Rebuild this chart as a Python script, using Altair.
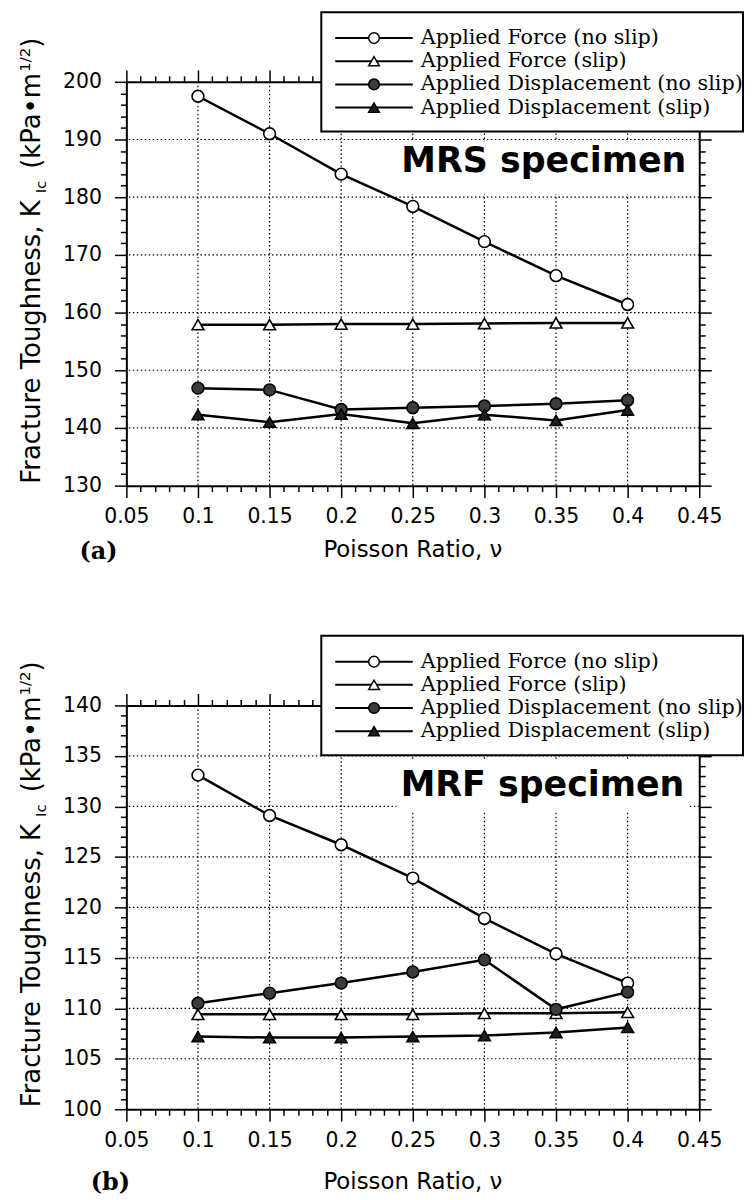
import altair as alt
import pandas as pd

# ---------------- data ----------------
poisson = [0.1, 0.15, 0.2, 0.25, 0.3, 0.35, 0.4]
series_names = [
    "Applied Force (no slip)",
    "Applied Force (slip)",
    "Applied Displacement (no slip)",
    "Applied Displacement (slip)",
]

mrs_force_noslip = [197.5, 191.0, 184.0, 178.4, 172.3, 166.4, 161.4]
mrs_force_slip = [157.9, 157.9, 158.0, 158.0, 158.1, 158.2, 158.2]
mrs_disp_noslip = [146.9, 146.6, 143.2, 143.5, 143.8, 144.2, 144.8]
mrs_disp_slip = [142.3, 141.0, 142.4, 140.8, 142.3, 141.3, 143.1]

mrf_force_noslip = [133.1, 129.1, 126.2, 122.9, 118.9, 115.4, 112.5]
mrf_force_slip = [109.4, 109.4, 109.4, 109.4, 109.5, 109.5, 109.6]
mrf_disp_noslip = [110.5, 111.5, 112.5, 113.6, 114.8, 109.9, 111.6]
mrf_disp_slip = [107.2, 107.1, 107.1, 107.2, 107.3, 107.6, 108.1]

x_grid = [0.1, 0.15, 0.2, 0.25, 0.3, 0.35, 0.4]
mrs_y_grid = [140, 150, 160, 170, 180, 190]
mrf_y_grid = [105, 110, 115, 120, 125, 130, 135]

# ---------------- layout constants ----------------
W, H = 576, 406
XDOM = [0.05, 0.45]
SANS = "DejaVu Sans"
SERIF = "DejaVu Serif"

shape_scale = alt.Scale(domain=series_names,
                        range=["circle", "triangle-up", "circle", "triangle-up"])
fill_scale = alt.Scale(domain=series_names,
                       range=["white", "white", "#3c3c3c", "#1e1e1e"])


def cond(test, a, b):
    return {"condition": {"test": test, "value": a}, "value": b}


def X(field, axis=None):
    return alt.X(f"{field}:Q", scale=alt.Scale(domain=XDOM, nice=False, zero=False), axis=axis)


def Y(field, ydom, axis=None):
    return alt.Y(f"{field}:Q", scale=alt.Scale(domain=ydom, nice=False, zero=False), axis=axis)


def panel(values, ydom, ymaj, ymin, ygrid, spec_text, spec_xy, box, tag, tag_xy, xt_y):
    rows = []
    for name, ys in zip(series_names, values):
        for xv, yv in zip(poisson, ys):
            rows.append({"x": xv, "y": yv, "series": name})
    df = pd.DataFrame(rows)

    xticks = [round(0.05 + 0.01 * i, 2) for i in range(41)]
    xtest = "abs(datum.value * 20 - round(datum.value * 20)) < 0.001"
    yticks = list(range(ydom[0], ydom[1] + 1, ymin))
    ytest = f"datum.value % {ymaj} === 0"

    common = dict(domainColor="black", domainWidth=2, tickColor="black", tickWidth=1.5,
                  labelColor="black", labelFont=SANS, labelFontSize=20.5, grid=False,
                  title=None, labelOverlap=False, labelFlush=False, labelBound=False)
    ax_bottom = alt.Axis(orient="bottom", values=xticks, tickSize=cond(xtest, 12, 6),
                         labelExpr=f"({xtest}) ? format(datum.value, '.2~f') : ''",
                         labelPadding=9, **common)
    ax_top = alt.Axis(orient="top", values=xticks, tickSize=cond(xtest, 12, 6),
                      labels=False, **common)
    ax_left = alt.Axis(orient="left", values=yticks, tickSize=cond(ytest, 12, 6),
                       labelExpr=f"({ytest}) ? format(datum.value, 'd') : ''",
                       labelPadding=13, **common)
    ax_right = alt.Axis(orient="right", values=yticks, tickSize=cond(ytest, 12, 6),
                        labels=False, **common)

    base = alt.Chart(df)

    gx = alt.Chart(pd.DataFrame({"g": x_grid})).mark_rule(
        color="black", strokeWidth=1.2, strokeDash=[1.5, 2.5]).encode(x=X("g"))
    gy = alt.Chart(pd.DataFrame({"g": ygrid})).mark_rule(
        color="black", strokeWidth=1.2, strokeDash=[1.5, 2.5]).encode(y=Y("g", ydom))

    tbox = alt.Chart(pd.DataFrame({"x1": [box[0]], "x2": [box[1]], "y1": [box[2]], "y2": [box[3]]})
                     ).mark_rect(fill="white").encode(
        x=X("x1"), x2="x2:Q", y=Y("y1", ydom), y2="y2:Q")

    lines = base.mark_line(color="black", strokeWidth=2.5).encode(
        x=X("x", ax_bottom), y=Y("y", ydom, ax_left), detail="series:N", order="x:Q")
    pts = base.mark_point(filled=True, stroke="black", strokeWidth=1.6, size=140, opacity=1).encode(
        x=X("x"), y=Y("y", ydom),
        shape=alt.Shape("series:N", scale=shape_scale, legend=None),
        fill=alt.Fill("series:N", scale=fill_scale, legend=None))
    axes2 = base.mark_point(opacity=0).encode(
        x=X("x", ax_top), y=Y("y", ydom, ax_right))

    spec = alt.Chart(pd.DataFrame({"x": [spec_xy[0]], "y": [spec_xy[1]], "t": [spec_text]})
                     ).mark_text(font=SANS, fontWeight="bold", fontSize=35, align="right",
                                 baseline="middle", color="black").encode(
        x=X("x"), y=Y("y", ydom), text="t:N")

    # legend (decoration drawn in pixel space over the plot)
    leg_df = pd.DataFrame({"series": series_names,
                           "ly": [-44 + 23.3 * i for i in range(4)]})
    leg_box = alt.Chart(pd.DataFrame({"a": [0]})).mark_rect(
        fill="white", stroke="black", strokeWidth=2).encode(
        x=alt.value(196), x2=alt.value(620), y=alt.value(-70), y2=alt.value(50))
    leg_line = alt.Chart(leg_df).mark_rule(color="black", strokeWidth=2).encode(
        x=alt.value(210), x2=alt.value(288), y=alt.Y("ly:Q", scale=None, axis=None))
    leg_pts = alt.Chart(leg_df).mark_point(filled=True, stroke="black", strokeWidth=1.5,
                                           size=115, opacity=1).encode(
        x=alt.value(249), y=alt.Y("ly:Q", scale=None, axis=None),
        shape=alt.Shape("series:N", scale=shape_scale, legend=None),
        fill=alt.Fill("series:N", scale=fill_scale, legend=None))
    leg_txt = alt.Chart(leg_df).mark_text(font=SERIF, fontSize=20.8, align="left",
                                          baseline="middle", color="black").encode(
        x=alt.value(296), y=alt.Y("ly:Q", scale=None, axis=None), text="series:N")

    # y-axis title with subscript / superscript
    one = pd.DataFrame({"a": [0]})
    segs = [("Fracture Toughness, K", 26, -87, 404),
            ("Ic", 15, -81, 112.1),
            ("(kPa\u2022m", 26, -87, 87.4),
            ("1/2", 15, -97, -10.1),
            (")", 26, -87, -34.2)]
    ytitle = []
    for txt, fs, px, py in segs:
        ytitle.append(alt.Chart(one).mark_text(
            text=txt, font=SANS, fontSize=fs, angle=270, align="left",
            baseline="alphabetic", color="black").encode(x=alt.value(px), y=alt.value(py)))

    xtitle = alt.Chart(one).mark_text(text="Poisson Ratio, \u03bd", font=SANS, fontSize=23,
                                      align="center", baseline="middle", color="black").encode(
        x=alt.value(W / 2), y=alt.value(xt_y))
    tag_t = alt.Chart(one).mark_text(text=tag, font=SERIF, fontWeight="bold", fontSize=24,
                                     align="center", baseline="middle", color="black").encode(
        x=alt.value(tag_xy[0]), y=alt.value(tag_xy[1]))

    layers = [gx, gy, tbox, lines, pts, axes2, spec, leg_box, leg_line, leg_pts, leg_txt,
              xtitle, tag_t] + ytitle
    return alt.layer(*layers).resolve_scale(x="independent", y="independent").properties(
        width=W, height=H)


top = panel([mrs_force_noslip, mrs_force_slip, mrs_disp_noslip, mrs_disp_slip],
            [130, 200], 10, 2, mrs_y_grid, "MRS specimen", (0.441, 186.3),
            (0.2396, 0.444, 180.5, 189.7), "(a)", (-28, 473), 471)
bottom = panel([mrf_force_noslip, mrf_force_slip, mrf_disp_noslip, mrf_disp_slip],
               [100, 140], 5, 1, mrf_y_grid, "MRF specimen", (0.4396, 132.1),
               (0.2385, 0.443, 129.5, 134.6), "(b)", (-16, 480), 479)

chart = alt.vconcat(top, bottom, spacing=71).properties(
    padding={"left": 10, "top": 0, "right": 0, "bottom": 0}, background="white"
).configure_view(stroke=None)

chart.save("out.html", embed_options={"renderer": "svg", "actions": False})
